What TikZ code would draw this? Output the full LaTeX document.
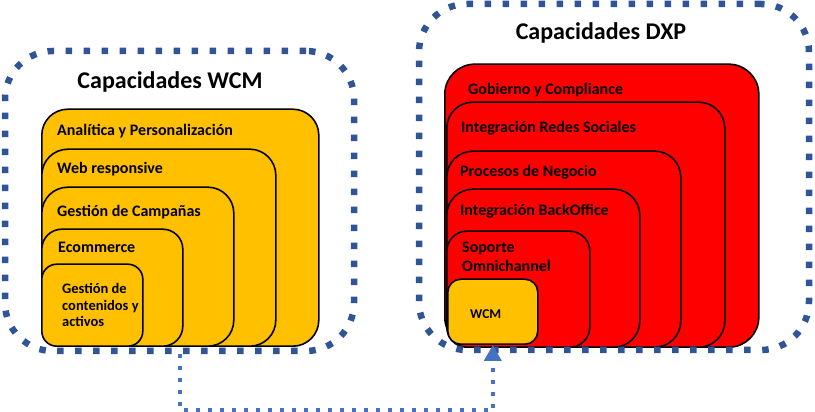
\documentclass[tikz,border=0pt]{standalone}
\usepackage{fontspec}
\setmainfont{Carlito}
\usepackage{xcolor}
\usetikzlibrary{arrows.meta,positioning}
\definecolor{wcmorange}{RGB}{255,192,0}
\definecolor{dxpred}{RGB}{255,0,0}
\definecolor{frameblue}{RGB}{47,85,151}
\definecolor{linkblue}{RGB}{68,114,196}

\begin{document}
\begin{tikzpicture}[x=1pt, y=1pt,
  capbox/.style={draw, line width=1.6pt, rounded corners=26pt, anchor=south west, inner sep=0pt},
  dotframe/.style={draw=frameblue, line width=6.5pt, dash pattern=on 6.5pt off 11.5pt, rounded corners=48pt, inner sep=0pt},
  lbl/.style={anchor=west, align=left, inner sep=0pt, font=\fontsize{16}{17}\selectfont\bfseries},
  ttl/.style={font=\fontsize{24}{28}\selectfont\bfseries},
  linkarr/.style={draw=linkblue, line width=4pt, dash pattern=on 4pt off 8pt, -{Triangle[length=16pt,width=17pt]}}]
\useasboundingbox (0,0) rectangle (815,412);

% WCM side
\node[capbox, fill=wcmorange, minimum width=277, minimum height=237] (ana) at (41,65) {};
\node[capbox, fill=wcmorange, minimum width=234, minimum height=197] (web) at (41,65) {};
\node[capbox, fill=wcmorange, minimum width=192, minimum height=159] (camp) at (41,65) {};
\node[capbox, fill=wcmorange, minimum width=141, minimum height=117, rounded corners=20pt] (ecom) at (41,65) {};
\node[capbox, fill=wcmorange, minimum width=101, minimum height=82, rounded corners=15pt] (gest) at (41,65) {};
\node[lbl] (lana) at (57,281) {Analítica y Personalización};
\node[lbl] (lweb) at (57,243) {Web responsive};
\node[lbl] (lcamp) at (57,200) {Gestión de Campañas};
\node[lbl] (lecom) at (58,165) {Ecommerce};
\node[lbl, font=\fontsize{14.5}{16.5}\selectfont\bfseries] (lgest) at (62,107) {Gestión de\\contenidos y\\activos};
\node[ttl] (twcm) at (170,330) {Capacidades WCM};

% DXP side
\node[capbox, fill=dxpred, minimum width=314, minimum height=283, rounded corners=30pt] (gob) at (444,64) {};
\node[capbox, fill=dxpred, minimum width=278, minimum height=245] (redes) at (446,64) {};
\node[capbox, fill=dxpred, minimum width=234, minimum height=196] (proc) at (446,64) {};
\node[capbox, fill=dxpred, minimum width=193, minimum height=158] (back) at (446,64) {};
\node[capbox, fill=dxpred, minimum width=143, minimum height=116, rounded corners=20pt] (sop) at (446,64) {};
\node[capbox, fill=wcmorange, minimum width=90, minimum height=65, rounded corners=13pt] (wcmin) at (447,67) {};
\node[lbl] (lgob) at (468,322) {Gobierno y Compliance};
\node[lbl] (lredes) at (461,284) {Integración Redes Sociales};
\node[lbl] (lproc) at (460,240) {Procesos de Negocio};
\node[lbl] (lback) at (460,201) {Integración BackOffice};
\node[lbl, font=\fontsize{16}{19}\selectfont\bfseries] (lsop) at (462,155.5) {Soporte\\Omnichannel};
\node[lbl, font=\fontsize{13.5}{14}\selectfont\bfseries] (lwcm) at (470,98) {WCM};
\node[ttl] (tdxp) at (601,379) {Capacidades DXP};

% frames and link
\node[dotframe, minimum width=349, minimum height=300] (wcm) at (179.5,211) {};
\node[dotframe, minimum width=390, minimum height=346] (dxp) at (614,235) {};
\draw[linkarr] (wcm.south) -- ++(0,-56) -| (wcmin.south);
\end{tikzpicture}
\end{document}
